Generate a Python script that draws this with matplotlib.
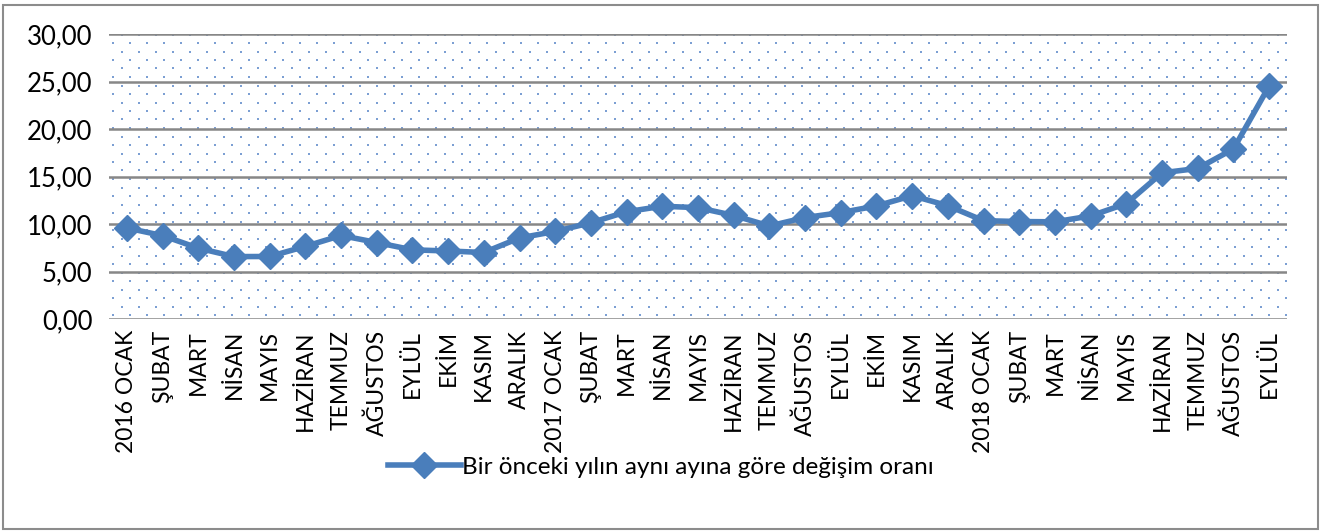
import matplotlib.pyplot as plt
import numpy as np

plt.rcParams['font.family'] = ['Lato', 'DejaVu Sans']

aylar = ["2016 OCAK", "ŞUBAT", "MART", "NİSAN", "MAYIS", "HAZİRAN", "TEMMUZ",
         "AĞUSTOS", "EYLÜL", "EKİM", "KASIM", "ARALIK",
         "2017 OCAK", "ŞUBAT", "MART", "NİSAN", "MAYIS", "HAZİRAN", "TEMMUZ",
         "AĞUSTOS", "EYLÜL", "EKİM", "KASIM", "ARALIK",
         "2018 OCAK", "ŞUBAT", "MART", "NİSAN", "MAYIS", "HAZİRAN", "TEMMUZ",
         "AĞUSTOS", "EYLÜL"]
oran = [9.58, 8.78, 7.46, 6.57, 6.58, 7.64, 8.79, 8.05, 7.28, 7.16, 7.00, 8.53,
        9.22, 10.13, 11.29, 11.87, 11.72, 10.90, 9.79, 10.68, 11.20, 11.90, 12.98, 11.92,
        10.35, 10.26, 10.23, 10.85, 12.15, 15.39, 15.85, 17.90, 24.52]
yticks = [0, 5, 10, 15, 20, 25, 30]

W, H = 1321, 532
fig = plt.figure(figsize=(W / 100, H / 100), dpi=100)
ax = fig.add_axes([109 / W, 1 - 319 / H, 1178 / W, 285 / H])

# dotted background texture (pixel spacing)
xs, ys = [], []
for j, yp in enumerate(np.arange(0, 285, 8.5)):
    off = 0 if j % 2 == 0 else 8.5
    for xp in np.arange(4 + off, 1178, 17):
        xs.append(xp / 1178)
        ys.append(yp / 285 + 4 / 285)
ax.scatter(xs, ys, s=3.5, marker='s', color='#7c9fd3', linewidths=0,
           transform=ax.transAxes, zorder=0)

x = np.arange(len(aylar))
ax.plot(x, oran, color='#4a7ebb', lw=4, marker='D', ms=13, zorder=3,
        label='Bir önceki yılın aynı ayına göre değişim oranı')

ax.set_xlim(-0.5, len(aylar) - 0.5)
ax.set_ylim(0, 30)
ax.set_yticks(yticks)
ax.set_yticklabels([f"{v:.2f}".replace('.', ',') for v in yticks], fontsize=18.5)
for v in yticks:
    ax.axhline(v, color='#878787', lw=1.8, zorder=1)
ax.set_xticks(x)
ax.set_xticklabels(aylar, rotation=90, fontsize=16.5)
ax.tick_params(axis='both', length=0, pad=8)
ax.tick_params(axis='y', pad=12)
for s in ax.spines.values():
    s.set_visible(False)

fig.legend(loc='center', bbox_to_anchor=(0.5, 1 - 467 / H), frameon=False,
           fontsize=17.5, handlelength=3.0, handletextpad=0.05)

fig.patches.append(plt.Rectangle((3 / W, 3 / H), 1 - 6 / W, 1 - 8 / H,
                                 transform=fig.transFigure, fill=False,
                                 edgecolor='#8c8c8c', lw=1.5))

fig.savefig('out.png', dpi=100)
